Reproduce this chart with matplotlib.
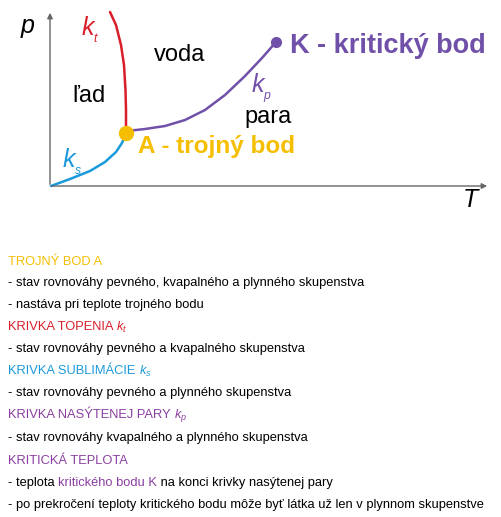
import matplotlib
matplotlib.use("Agg")
import matplotlib.pyplot as plt

# curves (pixel coords, y downward)
kt_x = [110, 116, 121, 124, 125.5, 126, 126]
kt_y = [12, 25, 45, 65, 90, 110, 131]
ks_x = [51, 70, 90, 105, 116, 122, 126]
ks_y = [186, 179, 171, 162, 152, 143, 134]
kp_x = [127, 145, 165, 185, 205, 225, 245, 262, 276]
kp_y = [131, 129, 126, 120, 110, 95, 76, 58, 42]
triple = (126, 133)
critical = (276, 42)

ORANGE = "#F5BE00"
RED = "#D91E2A"
BLUE = "#1B9ADB"
PURPLE = "#7050A8"
TXT_PURPLE = "#8A3FA0"

lines = [
    [("TROJNÝ BOD A", ORANGE)],
    [("- stav rovnováhy pevného, kvapalného a plynného skupenstva", "black")],
    [("- nastáva pri teplote trojného bodu", "black")],
    [("KRIVKA TOPENIA ", RED), ("$k_t$", RED)],
    [("- stav rovnováhy pevného a kvapalného skupenstva", "black")],
    [("KRIVKA SUBLIMÁCIE ", BLUE), ("$k_s$", BLUE)],
    [("- stav rovnováhy pevného a plynného skupenstva", "black")],
    [("KRIVKA NASÝTENEJ PARY ", TXT_PURPLE), ("$k_p$", TXT_PURPLE)],
    [("- stav rovnováhy kvapalného a plynného skupenstva", "black")],
    [("KRITICKÁ TEPLOTA", TXT_PURPLE)],
    [("- teplota ", "black"), ("kritického bodu K", TXT_PURPLE),
     (" na konci krivky nasýtenej pary", "black")],
    [("- po prekročení teploty kritického bodu môže byť látka už len v plynnom skupenstve", "black")],
]
line_y = [262, 283, 305, 327, 349, 371, 393, 415, 438, 461, 483, 505]

plt.rcParams["font.family"] = ["Liberation Sans", "DejaVu Sans"]
plt.rcParams["mathtext.fontset"] = "custom"
plt.rcParams["mathtext.it"] = "Liberation Sans:italic"
plt.rcParams["mathtext.rm"] = "Liberation Sans"

fig = plt.figure(figsize=(5.02, 5.17), dpi=100)
ax = fig.add_axes([0, 0, 1, 1])
ax.set_xlim(0, 502)
ax.set_ylim(517, 0)
ax.axis("off")

# axes arrows
ax.annotate("", xy=(490, 186), xytext=(49, 186),
            arrowprops=dict(arrowstyle="-|>", color="#666666", lw=1.0, mutation_scale=8))
ax.annotate("", xy=(50, 10), xytext=(50, 187),
            arrowprops=dict(arrowstyle="-|>", color="#666666", lw=1.0, mutation_scale=8))
ax.text(28, 26, "p", fontsize=18, style="italic", ha="center", va="center")
ax.text(470, 200, "T", fontsize=18, style="italic", ha="center", va="center")

ax.plot(kt_x, kt_y, color=RED, lw=1.8, solid_capstyle="round")
ax.plot(ks_x, ks_y, color=BLUE, lw=1.8, solid_capstyle="round")
ax.plot(kp_x, kp_y, color=PURPLE, lw=1.8, solid_capstyle="round")
ax.plot(*triple, "o", color=ORANGE, ms=10, zorder=5)
ax.plot(*critical, "o", color=PURPLE, ms=7, zorder=5)

ax.text(90, 30, "$k_{_t}$", color=RED, fontsize=18, ha="center", va="center")
ax.text(72, 162, "$k_{_s}$", color=BLUE, fontsize=18, ha="center", va="center")
ax.text(262, 88, "$k_{_p}$", color=PURPLE, fontsize=18, ha="center", va="center")
ax.text(180, 55, "voda", fontsize=17, ha="center", va="center")
ax.text(89, 96, "ľad", fontsize=17, ha="center", va="center")
ax.text(268, 117, "para", fontsize=17, ha="center", va="center")
ax.text(138, 146, "A - trojný bod", color=ORANGE, fontsize=17.5, weight="bold", va="center")
ax.text(290, 46, "K - kritický bod", color=PURPLE, fontsize=19.5, weight="bold", va="center")

fig.canvas.draw()
renderer = fig.canvas.get_renderer()
inv = ax.transData.inverted()
for parts, y in zip(lines, line_y):
    x = 8
    for s, c in parts:
        t = ax.text(x, y, s, color=c, fontsize=9.3, va="center", ha="left")
        bb = t.get_window_extent(renderer)
        x = inv.transform((bb.x1, bb.y0))[0]

fig.savefig("out.png", dpi=100)
